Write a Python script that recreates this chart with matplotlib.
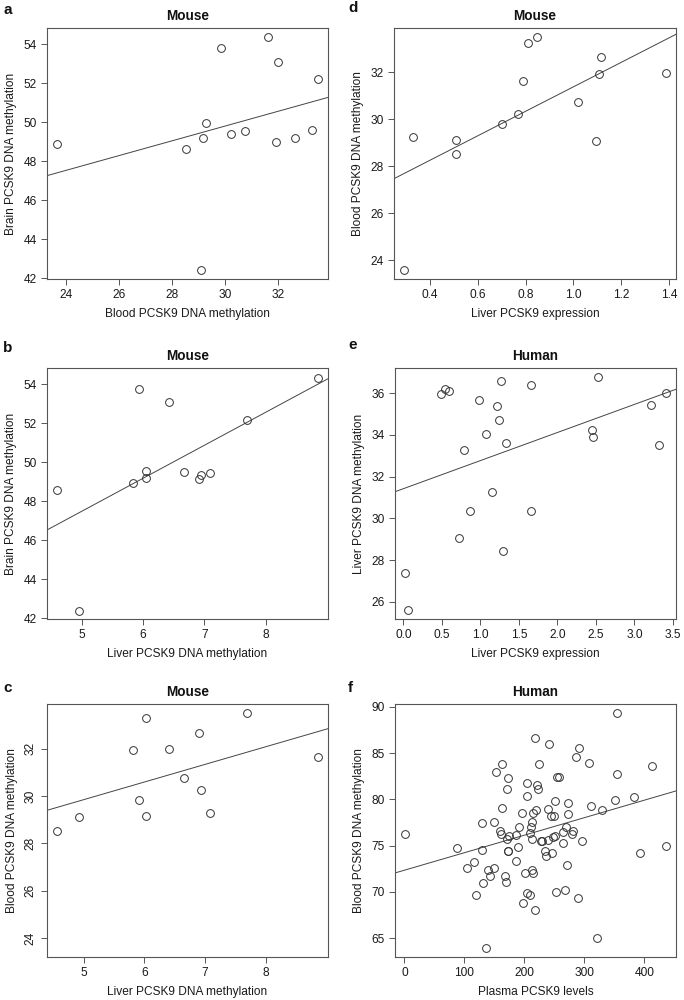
import numpy as np
import matplotlib
matplotlib.use("Agg")
import matplotlib.pyplot as plt
from matplotlib.transforms import offset_copy

plt.rcParams['font.family'] = ['Liberation Sans', 'DejaVu Sans']

# ---------------- data ----------------
# a: Blood vs Brain methylation (mouse)
a_x = [23.69, 28.54, 29.15, 29.28, 29.83, 29.10, 30.24, 30.74, 31.60, 31.98, 31.90, 32.64, 33.26, 33.48]
a_y = [48.87, 48.65, 49.21, 49.98, 53.80, 42.43, 49.40, 49.57, 54.37, 53.11, 48.99, 49.19, 49.60, 52.24]

# b: Liver vs Brain methylation (mouse)
b_x = [4.60, 4.95, 5.94, 5.84, 6.04, 6.05, 6.42, 6.67, 6.92, 6.94, 7.09, 7.70, 8.85]
b_y = [48.60, 42.38, 53.76, 48.94, 49.20, 49.57, 53.09, 49.52, 49.15, 49.35, 49.45, 52.20, 54.35]

# c: Liver vs Blood methylation (mouse)
c_x = [4.57, 4.92, 5.81, 5.92, 6.03, 6.02, 6.40, 6.65, 6.90, 6.93, 7.08, 7.69, 8.85]
c_y = [28.53, 29.11, 31.96, 29.83, 33.30, 29.15, 32.01, 30.75, 32.69, 30.26, 29.28, 33.53, 31.65]

# d: Liver expression vs Blood methylation (mouse)
d_x = [0.293, 0.330, 0.510, 0.510, 0.700, 0.769, 0.789, 0.808, 0.849, 1.017, 1.095, 1.105, 1.116, 1.385]
d_y = [23.59, 29.24, 29.11, 28.52, 29.79, 30.23, 31.62, 33.27, 33.50, 30.73, 29.07, 31.93, 32.65, 31.99]

# e: Liver expression vs Liver methylation (human)
e_x = [0.026, 0.060, 0.488, 0.544, 0.588, 0.717, 0.782, 0.864, 0.985, 1.067, 1.145, 1.214,
       1.245, 1.266, 1.292, 1.327, 1.659, 1.659, 2.446, 2.463, 2.524, 3.215, 3.315, 3.405]
e_y = [27.38, 25.63, 35.95, 36.19, 36.11, 29.08, 33.27, 30.38, 35.67, 34.03, 31.29, 35.37,
       34.73, 36.59, 28.44, 33.63, 36.38, 30.35, 34.25, 33.92, 36.76, 35.44, 33.51, 36.00]

# f: Plasma PCSK9 vs Blood methylation (human)
f_x = [1.7, 87.7, 104.8, 115.3, 118.6, 129.7, 129.1, 130.8, 136.8, 139.0, 142.3, 150.1, 149.5,
       153.4, 160.0, 161.1, 162.2, 163.3, 167.7, 168.8, 170.5, 172.7, 171.6, 173.2, 174.3, 172.7,
       185.4, 186.5, 188.7, 191.4, 195.9, 197.5, 200.8, 203.6, 204.1, 204.1, 208.6, 209.1, 211.9,
       211.3, 211.9, 214.1, 213.5, 214.6, 217.4, 218.0, 220.1, 221.2, 222.3, 224.6, 227.3, 229.0,
       233.9, 236.1, 238.9, 240.0, 240.6, 243.9, 246.6, 248.8, 247.7, 250.5, 250.5, 252.7, 253.8,
       258.2, 263.7, 263.7, 268.1, 269.8, 270.9, 272.0, 272.6, 278.6, 281.4, 285.8, 289.7, 290.2,
       296.3, 307.3, 311.2, 321.1, 328.8, 350.3, 354.8, 354.8, 383.4, 392.8, 413.2, 435.3]
f_y = [76.31, 74.79, 72.59, 73.27, 69.62, 77.43, 74.50, 70.96, 63.99, 72.41, 71.68, 72.59, 77.50,
       82.96, 76.63, 76.24, 79.02, 83.79, 71.76, 71.03, 81.15, 82.31, 75.77, 74.47, 76.06, 74.39,
       76.16, 73.38, 74.86, 76.96, 78.48, 68.79, 72.08, 81.73, 80.39, 69.91, 76.38, 69.66, 77.57,
       77.03, 72.33, 72.01, 75.69, 78.55, 68.07, 86.60, 78.80, 81.55, 81.15, 83.82, 75.48, 75.51,
       74.47, 73.89, 78.95, 75.66, 85.95, 78.22, 74.25, 78.15, 75.98, 76.02, 79.81, 69.95, 82.45,
       82.41, 76.42, 75.33, 70.17, 77.03, 72.88, 78.40, 79.63, 76.27, 76.56, 84.62, 69.30, 85.56,
       75.48, 83.97, 79.31, 65.00, 78.80, 79.88, 82.77, 89.28, 80.28, 74.21, 83.64, 74.97]

labels = ['a', 'b', 'c', 'd', 'e', 'f']
titles = ['Mouse', 'Mouse', 'Mouse', 'Mouse', 'Human', 'Human']
xlabels = ['Blood PCSK9 DNA methylation', 'Liver PCSK9 DNA methylation', 'Liver PCSK9 DNA methylation',
           'Liver PCSK9 expression', 'Liver PCSK9 expression', 'Plasma PCSK9 levels']
ylabels = ['Brain PCSK9 DNA methylation', 'Brain PCSK9 DNA methylation', 'Blood PCSK9 DNA methylation',
           'Blood PCSK9 DNA methylation', 'Liver PCSK9 DNA methylation', 'Blood PCSK9 DNA methylation']
xticks = [[24, 26, 28, 30, 32], [5, 6, 7, 8], [5, 6, 7, 8],
          [0.4, 0.6, 0.8, 1.0, 1.2, 1.4], [0.0, 0.5, 1.0, 1.5, 2.0, 2.5, 3.0, 3.5], [0, 100, 200, 300, 400]]
yticks = [[42, 44, 46, 48, 50, 52, 54], [42, 44, 46, 48, 50, 52, 54], [24, 26, 28, 30, 32],
          [24, 26, 28, 30, 32], [26, 28, 30, 32, 34, 36], [65, 70, 75, 80, 85, 90]]
xfmt = ['{:g}', '{:g}', '{:g}', '{:.1f}', '{:.1f}', '{:g}']

# ---------------- layout (pixels in a 684x1000 figure) ----------------
W, H = 684, 1000
boxes = {  # left, top, right, bottom
    'a': (47, 28, 328, 279),
    'b': (47, 368, 328, 619),
    'c': (47, 704, 328, 957),
    'd': (394, 28, 676, 279),
    'e': (395, 368, 676, 619),
    'f': (395, 704, 676, 957),
}
label_pos = {'a': (3, 10), 'b': (3, 348), 'c': (3, 688), 'd': (348, 8), 'e': (348, 345), 'f': (348, 688)}

series = {'a': (a_x, a_y), 'b': (b_x, b_y), 'c': (c_x, c_y),
          'd': (d_x, d_y), 'e': (e_x, e_y), 'f': (f_x, f_y)}

def rlim(v):
    v = np.asarray(v, float)
    r = v.max() - v.min()
    return v.min() - 0.04 * r, v.max() + 0.04 * r

# y-range sharing as in reference
ylim_src = {'a': a_y, 'b': a_y, 'c': d_y, 'd': d_y, 'e': e_y, 'f': f_y}

fig = plt.figure(figsize=(W / 100, H / 100), dpi=100)
BOX = '#555555'
PT = '#333333'
TXT = '#1a1a1a'
FS = 8.6

for i, lab in enumerate(labels):
    l, t, r, b = boxes[lab]
    ax = fig.add_axes([l / W, 1 - b / H, (r - l) / W, (b - t) / H])
    x, y = series[lab]
    x = np.asarray(x, float)
    y = np.asarray(y, float)
    ax.plot(x, y, linestyle='none', marker='o', ms=5.6, mfc='none', mec=PT, mew=0.7, zorder=3)
    xl = rlim(x)
    yl = rlim(ylim_src[lab])
    ax.set_xlim(xl)
    ax.set_ylim(yl)
    k, c0 = np.polyfit(x, y, 1)
    xx = np.array(xl)
    ax.plot(xx, c0 + k * xx, color='#444444', lw=0.7, zorder=2)

    ax.set_xticks(xticks[i])
    ax.set_xticklabels([xfmt[i].format(v) for v in xticks[i]])
    ax.set_yticks(yticks[i])
    if lab == 'c':
        ax.set_yticklabels([str(v) for v in yticks[i]], rotation=90, va='center')
    else:
        ax.set_yticklabels([str(v) for v in yticks[i]])
    ax.tick_params(direction='out', length=4.2, width=0.7, color=BOX, labelsize=FS,
                   labelcolor=TXT, pad=3.2)
    for s in ax.spines.values():
        s.set_color(BOX)
        s.set_linewidth(0.8)
    ax.set_xlabel(xlabels[i], fontsize=FS, color=TXT, labelpad=4.5)
    ax.set_ylabel(ylabels[i], fontsize=FS, color=TXT, labelpad=5)
    ax.text(0.5, 1.0, titles[i], transform=offset_copy(ax.transAxes, fig=fig, x=0, y=12.5, units='dots'),
            ha='center', va='center', fontsize=9.8, fontweight='bold', color='#111111')
    px, py = label_pos[lab]
    fig.text(px / W, 1 - py / H, lab, ha='left', va='center', fontsize=11, fontweight='bold', color='#111111')

fig.savefig('out.png', dpi=100)
